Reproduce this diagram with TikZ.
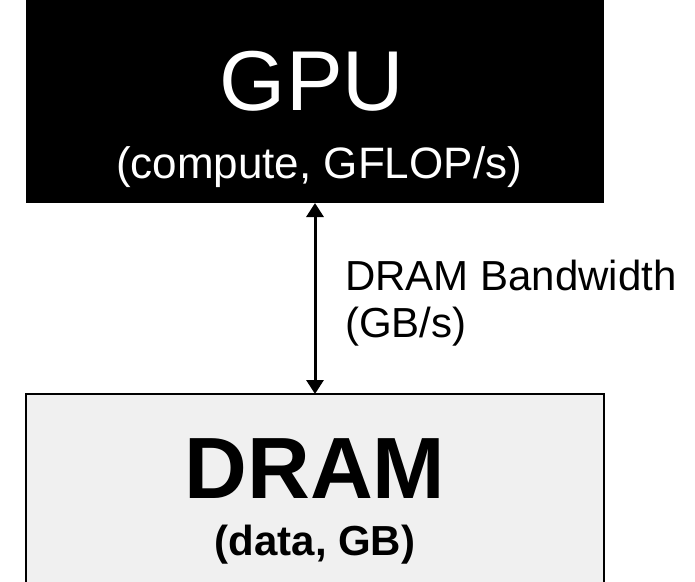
\documentclass[tikz,border=0pt]{standalone}
\usepackage{fontspec}
\setmainfont{Liberation Sans}
\usetikzlibrary{arrows.meta}
\definecolor{dramgray}{HTML}{F0F0F0}

\begin{document}
\begin{tikzpicture}[x=1pt, y=-1pt,
    unitbox/.style={rectangle, minimum width=578pt, inner sep=0pt, outer sep=0pt},
    boxtext/.style={anchor=base, inner sep=0pt},
    link/.style={line width=3pt, {Triangle[width=17pt,length=14pt]}-{Triangle[width=17pt,length=14pt]}}]
    \useasboundingbox (0,0) rectangle (695,581);
    \clip (0,0) rectangle (695,581);

    % --- the two boxes (dram runs off the bottom edge) ---
    \node[unitbox, fill=black, minimum height=203pt] (gpu) at (315,101.5) {};
    \node[unitbox, fill=dramgray, draw=black, line width=2pt, minimum height=240pt] (dram) at (315,514) {};

    % --- box texts ---
    \node[boxtext, white, font=\fontsize{85}{90}\selectfont] (gpuname) at (312,110) {GPU};
    \node[boxtext, white, font=\fontsize{44}{48}\selectfont] (gpucap) at (319,178) {(compute, GFLOP/s)};
    \node[boxtext, font=\fontsize{87}{92}\bfseries\selectfont] (dramname) at (315,498) {DRAM};
    \node[boxtext, font=\fontsize{42}{46}\bfseries\selectfont] (dramcap) at (315,555) {(data, GB)};

    % --- bandwidth link ---
    \draw[link] (gpu.south) -- (dram.north);
    \node[boxtext, anchor=base west, font=\fontsize{42}{46}\selectfont] (bw) at (345,290) {DRAM Bandwidth};
    \node[boxtext, anchor=base west, font=\fontsize{42}{46}\selectfont] (bwunit) at (345,337) {(GB/s)};
\end{tikzpicture}
\end{document}
